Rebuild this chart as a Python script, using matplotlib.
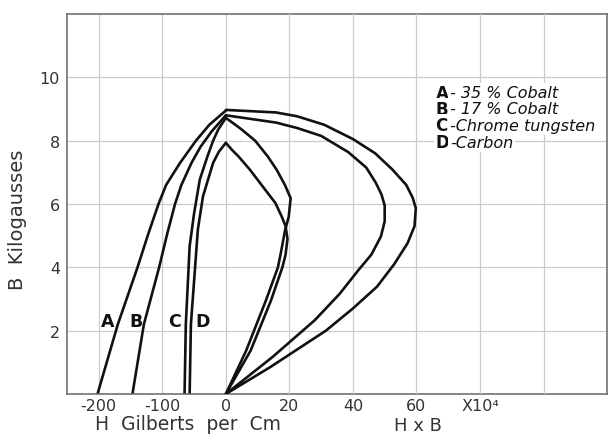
"""
Demagnetization and energy-product curves for four magnet steels.

Left half: B against demagnetizing force H (gilberts per cm).
Right half: B against the product H x B (units of 10^4).
"""

import matplotlib.pyplot as plt

# demagnetization curves: B (kilogausses) vs H (gilberts per cm)
b_demag_a = [0, 2.2, 4.0, 5.0, 6.0, 6.6, 7.3, 8.0, 8.5, 8.95]
h_demag_a = [-202, -170, -139, -123, -106, -94, -72, -47, -26, 0]

b_demag_b = [0, 2.2, 4.0, 5.0, 6.0, 6.6, 7.3, 7.8, 8.3, 8.8]
h_demag_b = [-147, -129, -105, -93, -80, -70, -54, -40, -22, 0]

b_demag_c = [0, 2.2, 4.66, 5.7, 6.77, 7.5, 8.0, 8.35, 8.72]
h_demag_c = [-65, -63, -57, -50, -41, -29, -20, -12, 0]

b_demag_d = [0, 2.2, 4.66, 5.2, 6.24, 7.3, 7.65, 7.93]
h_demag_d = [-57, -55, -46, -44, -36, -20, -11, 0]

# energy product curves: B vs H x B (x 10^4)
b_prod_a = [8.97, 8.89, 8.77, 8.5, 8.05, 7.6, 7.09, 6.6, 6.2, 5.87, 5.3, 4.76,
            4.1, 3.39, 2.7, 2.0, 0.85, 0]
hb_prod_a = [0, 15.8, 22.4, 31, 40, 47, 52.4, 56.8, 58.8, 59.8, 59.4, 57.2,
             53, 47.6, 40, 31.5, 14, 0]

b_prod_b = [8.8, 8.57, 8.4, 8.15, 7.64, 7.15, 6.67, 6.3, 5.95, 5.45, 4.97, 4.4,
            3.92, 3.16, 2.33, 1.16, 0]
hb_prod_b = [0, 15.8, 22.4, 30, 38.5, 44.2, 47.2, 49, 50, 50, 48.8, 45.8,
             41.8, 35.8, 28, 14.6, 0]

b_prod_c = [8.72, 8.5, 8.35, 8.0, 7.5, 7.08, 6.6, 6.18, 5.6, 5.15, 4.5, 4.0,
            2.95, 1.37, 0]
hb_prod_c = [0, 3, 5, 9.2, 13.2, 16, 18.6, 20.4, 19.8, 18.6, 17.4, 16.4,
             12.6, 6.4, 0]

b_prod_d = [7.93, 7.7, 7.5, 7.08, 6.5, 6.03, 5.6, 5.3, 4.9, 4.4, 4.0, 2.95,
            1.37, 0]
hb_prod_d = [0, 2, 4, 7.6, 12, 15.6, 17.6, 18.8, 19.4, 18.8, 17.8, 14.2,
             7.8, 0]

curve_letters = ["A", "B", "C", "D"]
letter_h = [-186, -141, -81, -36]
materials = ["- 35 % Cobalt", "- 17 % Cobalt", "-Chrome tungsten", "-Carbon"]
legend_b = [9.52, 9.0, 8.48, 7.95]

h_ticks = [-200, -100, 0]
hb_ticks = [20, 40, 60, 80, 100]
hb_ticklabels = ["20", "40", "60", "X10\u2074", ""]
b_ticks = [2, 4, 6, 8, 10]

ink = "#111111"
text_col = "#333333"
grid_col = "#cccccc"

fig = plt.figure(figsize=(6.12, 4.35), dpi=100)
ax = fig.add_axes([0.1095, 0.092, 0.8824, 0.8736])
ax.set_xlim(-250, 600)
ax.set_ylim(0, 12)

# second x scale for the H x B side, sharing the same B axis
ax2 = ax.twiny()
ax2.set_xlim(-50, 120)
ax2.xaxis.set_ticks_position("bottom")
ax2.xaxis.set_label_position("bottom")

ax.set_xticks(h_ticks)
ax.set_xticklabels([str(v) for v in h_ticks])
ax.set_yticks(b_ticks)
ax2.set_xticks(hb_ticks)
ax2.set_xticklabels(hb_ticklabels)

for a in (ax, ax2):
    a.tick_params(length=0, labelsize=11.5, labelcolor=text_col, pad=3)
    a.grid(True, color=grid_col, lw=0.9)
ax2.grid(axis="y", visible=False)
ax.tick_params(axis="y", pad=5)

for s in ax.spines.values():
    s.set_color("#666666")
    s.set_linewidth(1.1)
for s in ax2.spines.values():
    s.set_visible(False)

lw = 1.9
for h, b in [(h_demag_a, b_demag_a), (h_demag_b, b_demag_b),
             (h_demag_c, b_demag_c), (h_demag_d, b_demag_d)]:
    ax.plot(h, b, color=ink, lw=lw, solid_joinstyle="round",
            solid_capstyle="round")
for hb, b in [(hb_prod_a, b_prod_a), (hb_prod_b, b_prod_b),
              (hb_prod_c, b_prod_c), (hb_prod_d, b_prod_d)]:
    ax2.plot(hb, b, color=ink, lw=lw, solid_joinstyle="round",
             solid_capstyle="round")

# curve letters near the bottom of the demagnetization curves
for letter, h in zip(curve_letters, letter_h):
    ax.text(h, 2.3, letter, fontsize=12.5, fontweight="bold", color=ink,
            ha="center", va="center")

# key of materials, drawn on white so the grid breaks behind it
for letter, name, b in zip(curve_letters, materials, legend_b):
    ax2.text(66, b, letter, fontsize=12, fontweight="bold", color=ink,
             ha="left", va="center",
             bbox=dict(fc="white", ec="none", pad=1.5))
    ax2.text(70.5, b, name, fontsize=11.5, style="italic", color=ink,
             ha="left", va="center",
             bbox=dict(fc="white", ec="none", pad=1.5))

ax.set_ylabel("B  Kilogausses", fontsize=14, color=text_col)
ax.yaxis.set_label_coords(-0.074, 0.46)
ax.set_xlabel("H  Gilberts  per  Cm", fontsize=13.5, color=text_col,
              va="baseline")
ax.xaxis.set_label_coords(0.224, -0.093)
ax2.set_xlabel("H x B", fontsize=13, color=text_col, va="baseline")
ax2.xaxis.set_label_coords(0.649, -0.094)

fig.savefig("out.png", dpi=100)
